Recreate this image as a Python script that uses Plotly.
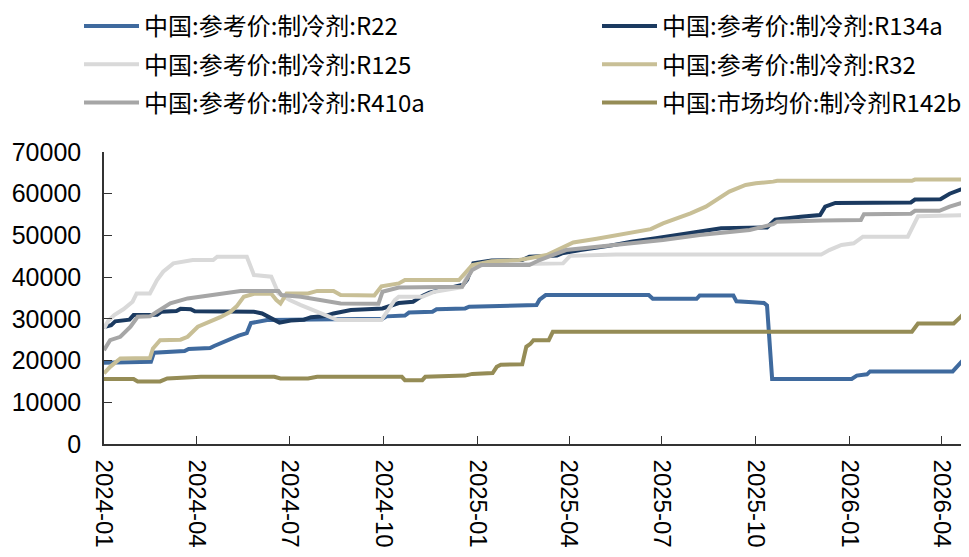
import plotly.graph_objects as go

# ---- data ----
names = [
    "中国:参考价:制冷剂:R22",
    "中国:参考价:制冷剂:R134a",
    "中国:参考价:制冷剂:R125",
    "中国:参考价:制冷剂:R32",
    "中国:参考价:制冷剂:R410a",
    "中国:市场均价:制冷剂R142b",
]

r22 = [("2024-01-01",19500),("2024-02-16",19700),("2024-02-19",21900),("2024-03-20",22300),("2024-03-24",22800),
       ("2024-04-14",23000),("2024-04-18",23500),("2024-04-26",24400),("2024-05-03",25200),("2024-05-12",26000),
       ("2024-05-20",26600),("2024-05-24",29000),("2024-06-09",29700),("2024-08-12",30000),("2024-09-30",30000),
       ("2024-10-04",30600),("2024-10-22",30800),("2024-10-26",31500),("2024-11-18",31700),("2024-11-22",32300),
       ("2024-12-20",32500),("2024-12-24",32900),("2025-02-11",33100),("2025-02-28",33300),("2025-03-03",34600),
       ("2025-03-09",35700),("2025-06-18",35700),("2025-06-22",34800),("2025-08-04",34800),("2025-08-07",35600),
       ("2025-09-09",35600),("2025-09-12",34200),("2025-09-28",34000),("2025-10-09",33800),("2025-10-12",33200),
       ("2025-10-17",15600),("2026-01-03",15600),("2026-01-08",16400),("2026-01-18",16700),("2026-01-21",17400),
       ("2026-04-12",17400),("2026-04-17",18800),("2026-04-21",19800),("2026-04-30",20700)]

r134a = [("2024-01-01",28000),("2024-01-08",28500),("2024-01-12",29400),("2024-01-26",29800),("2024-01-30",30900),
         ("2024-02-22",31000),("2024-02-26",31700),("2024-03-12",31900),("2024-03-16",32400),("2024-03-26",32300),
         ("2024-03-30",31800),("2024-05-27",31700),("2024-06-04",31300),("2024-06-10",30500),("2024-06-16",29800),
         ("2024-06-21",29100),("2024-07-02",29600),("2024-07-15",29800),("2024-07-22",30400),("2024-08-05",30700),
         ("2024-08-13",31300),("2024-08-30",32100),("2024-09-30",32500),("2024-10-08",33200),("2024-10-16",33800),
         ("2024-10-30",34100),("2024-11-08",35500),("2024-11-15",36300),("2024-12-01",37300),("2024-12-18",38200),
         ("2024-12-22",39400),("2024-12-28",43300),("2025-01-15",44000),("2025-02-14",44100),("2025-02-21",44900),
         ("2025-03-20",45200),("2025-03-25",45700),("2025-04-12",46500),("2025-05-10",47500),("2025-06-01",48500),
         ("2025-06-25",49300),("2025-07-20",50300),("2025-08-10",51000),("2025-08-28",51700),("2025-10-12",51900),
         ("2025-10-20",53800),("2025-11-14",54500),("2025-12-03",54900),("2025-12-08",56900),("2025-12-18",57800),
         ("2026-03-02",57900),("2026-03-06",58600),("2026-03-31",58700),("2026-04-09",60000),("2026-04-20",61000),
         ("2026-04-30",61200)]

r125 = [("2024-01-01",27700),("2024-01-05",29500),("2024-01-11",30900),("2024-01-20",32300),("2024-01-29",34100),
        ("2024-02-02",36100),("2024-02-15",36100),("2024-02-22",39300),("2024-02-28",41300),("2024-03-09",43300),
        ("2024-03-28",44100),("2024-04-17",44100),("2024-04-21",44900),("2024-05-20",44900),("2024-05-27",40500),
        ("2024-06-13",40100),("2024-06-20",36100),("2024-07-01",34500),("2024-07-12",33300),("2024-07-28",31700),
        ("2024-08-17",29700),("2024-09-29",29700),("2024-10-06",32500),("2024-10-12",34500),("2024-10-16",35300),
        ("2024-11-08",35300),("2024-11-20",36500),("2024-12-17",37600),("2024-12-26",42500),("2025-01-10",43000),
        ("2025-03-26",43300),("2025-04-02",45100),("2025-05-17",45400),("2025-12-04",45400),("2025-12-12",46500),
        ("2025-12-24",47700),("2026-01-05",48100),("2026-01-14",49700),("2026-02-27",49700),("2026-03-03",51800),
        ("2026-03-09",54600),("2026-04-30",54900)]

r32 = [("2024-01-01",16900),("2024-01-07",18500),("2024-01-17",20500),("2024-02-15",20600),("2024-02-18",22900),
       ("2024-02-25",24900),("2024-03-16",25000),("2024-03-23",25700),("2024-04-02",28100),("2024-04-14",29300),
       ("2024-04-24",30400),("2024-05-04",31700),("2024-05-10",33000),("2024-05-17",35300),("2024-05-27",36000),
       ("2024-06-13",36000),("2024-06-18",34500),("2024-06-22",33700),("2024-06-28",36100),("2024-07-19",36100),
       ("2024-07-28",36700),("2024-08-13",36700),("2024-08-20",35700),("2024-09-22",35600),("2024-09-29",37800),
       ("2024-10-16",38500),("2024-10-22",39300),("2024-12-14",39300),("2024-12-18",40500),("2024-12-27",42900),
       ("2025-01-15",43800),("2025-02-11",44100),("2025-03-10",45300),("2025-03-26",47300),("2025-04-05",48300),
       ("2025-04-28",49200),("2025-05-31",50500),("2025-06-20",51500),("2025-07-02",52900),("2025-07-15",54000),
       ("2025-07-29",55300),("2025-08-13",56900),("2025-08-23",58500),("2025-09-05",60500),("2025-09-21",62100),
       ("2025-10-01",62500),("2025-10-18",62900),("2025-10-22",63100),("2026-03-03",63100),("2026-03-06",63400),
       ("2026-04-30",63400)]

r410a = [("2024-01-01",22500),("2024-01-07",24900),("2024-01-17",25700),("2024-01-27",28100),("2024-02-03",30500),
         ("2024-02-15",30600),("2024-02-22",31700),("2024-03-06",33700),("2024-03-23",34900),("2024-04-17",35700),
         ("2024-05-14",36700),("2024-06-20",36700),("2024-06-23",35700),("2024-07-12",35300),("2024-08-07",34100),
         ("2024-08-20",33700),("2024-09-26",33600),("2024-09-30",36500),("2024-10-16",37500),("2024-12-17",37700),
         ("2024-12-27",41700),("2025-01-05",42900),("2025-02-21",42900),("2025-03-03",44100),("2025-03-29",46500),
         ("2025-05-17",47700),("2025-07-02",48900),("2025-08-07",50100),("2025-09-25",51300),("2025-10-18",52700),
         ("2025-10-22",53300),("2025-12-05",53600),("2026-01-12",53700),("2026-01-15",55100),("2026-03-02",55200),
         ("2026-03-06",55900),("2026-03-30",55900),("2026-04-09",56900),("2026-04-22",57900),("2026-04-30",58000)]

r142b = [("2024-01-01",15600),("2024-01-30",15600),("2024-02-03",15000),("2024-02-25",15000),("2024-03-03",15700),
         ("2024-04-05",16100),("2024-06-16",16100),("2024-06-22",15700),("2024-07-19",15700),("2024-07-28",16100),
         ("2024-10-19",16100),("2024-10-22",15300),("2024-11-08",15300),("2024-11-11",16100),("2024-12-20",16400),
         ("2024-12-27",16800),("2025-01-16",17000),("2025-01-20",18500),("2025-01-24",19000),("2025-02-14",19100),
         ("2025-02-18",23300),("2025-02-22",24000),("2025-02-25",24900),("2025-03-12",24900),("2025-03-16",26900),
         ("2026-03-03",26900),("2026-03-09",28900),("2026-04-13",28900),("2026-04-20",30500),("2026-04-27",32500),
         ("2026-04-30",32500)]

y_ticks = [0, 10000, 20000, 30000, 40000, 50000, 60000, 70000]

# ---- styling ----
series = [r22, r134a, r125, r32, r410a, r142b]
colors = ["#3F6A9E", "#1B3A60", "#D9D9D9", "#C8BF96", "#A6A6A6", "#958C56"]
legend_of = ["legend", "legend2", "legend", "legend2", "legend", "legend2"]

fig = go.Figure()
for nm, data, col, lg in zip(names, series, colors, legend_of):
    xs = [d for d, _ in data]
    ys = [v for _, v in data]
    fig.add_trace(go.Scatter(
        x=xs, y=ys, name=nm, mode="lines",
        line=dict(color=col, width=4),
        legend=lg, legendgroup=nm,
    ))

W, H = 961, 549          # page has an 8px body margin; fill the 969x557 window exactly
L, T, B = 96, 144, 113   # plot area: x 104..969, y 152..444 in window pixels
plot_h = H - T - B

legend_common = dict(
    orientation="v", xref="container", yref="paper",
    xanchor="left", yanchor="top",
    font=dict(family="Noto Sans CJK SC", size=24, color="#000000"),
    bgcolor="rgba(0,0,0,0)", borderwidth=0,
    itemwidth=55, tracegroupgap=4,
)
leg_y = 1 + (T + 4) / plot_h

fig.update_layout(
    width=W, height=H,
    margin=dict(l=L, r=0, t=T, b=B, autoexpand=False),
    paper_bgcolor="white", plot_bgcolor="white",
    showlegend=True,
    legend=dict(x=71 / W, y=leg_y, **legend_common),
    legend2=dict(x=589 / W, y=leg_y, **legend_common),
    xaxis=dict(
        type="date",
        range=["2024-01-01", "2026-04-28"],
        tick0="2024-01-01", dtick="M3", tickformat="%Y-%m",
        tickangle=90,
        showline=True, linecolor="#333333", linewidth=1.5,
        ticks="inside", ticklen=8, tickcolor="#333333", tickwidth=1.2,
        showgrid=False, zeroline=False,
        ticklabelstandoff=9,
        tickfont=dict(family="Liberation Sans", size=24, color="#000000"),
    ),
    yaxis=dict(
        range=[0, 70000],
        tickvals=y_ticks, tickformat="d",
        showline=True, linecolor="#333333", linewidth=1.5,
        ticks="inside", ticklen=8, tickcolor="#333333", tickwidth=1.2,
        showgrid=False, zeroline=False,
        ticklabelstandoff=16,
        tickfont=dict(family="Liberation Sans", size=25, color="#000000"),
    ),
)

fig.write_html("out.html")
